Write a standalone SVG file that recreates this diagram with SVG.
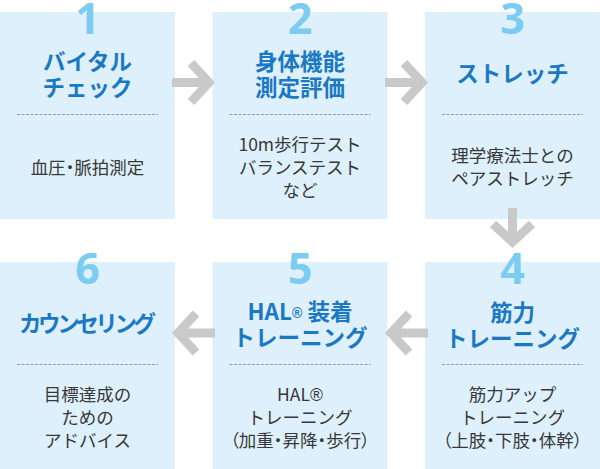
<svg xmlns="http://www.w3.org/2000/svg" width="600" height="469" viewBox="0 0 600 469">
<style>
.box{fill:#def0fb}
.num{font-family:"Noto Sans","Liberation Sans",sans-serif;font-weight:bold;font-size:43px;fill:#7ccbf1;text-anchor:middle}
.ttl{font-family:"Noto Sans CJK JP","Noto Sans",sans-serif;font-weight:bold;font-size:22.5px;fill:#1b79c4;text-anchor:middle}
.body{font-family:"Noto Sans CJK JP","Noto Sans",sans-serif;font-size:17.5px;fill:#383838;text-anchor:middle}
.pt{font-feature-settings:"palt"}
.reg{font-family:"Liberation Sans",sans-serif}
.sep{stroke:#9a9a9a;stroke-width:1;stroke-dasharray:3 1.5}
.arr{fill:none;stroke:#c9c9c9;stroke-width:9;stroke-linejoin:miter}
</style>
<rect width="600" height="469" fill="#fff"/>
<g id="node1">
<rect class="box" x="0" y="12" width="175" height="207"/>
<text class="num" x="87.5" y="34">1</text>
<text class="ttl" x="87.5" y="70">バイタル</text>
<text class="ttl" x="87.5" y="96">チェック</text>
<line class="sep" x1="17" y1="114.5" x2="158" y2="114.5"/>
<text class="body pt" x="87.5" y="174">血圧・脈拍測定</text>
</g>
<g id="node2">
<rect class="box" x="212.5" y="12" width="175" height="207"/>
<text class="num" x="300" y="34">2</text>
<text class="ttl" x="300" y="70">身体機能</text>
<text class="ttl" x="300" y="96">測定評価</text>
<line class="sep" x1="229.5" y1="114.5" x2="370.5" y2="114.5"/>
<text class="body" x="300" y="150.5">10m歩行テスト</text>
<text class="body" x="300" y="174">バランステスト</text>
<text class="body" x="300" y="197">など</text>
</g>
<g id="node3">
<rect class="box" x="425" y="12" width="175" height="207"/>
<text class="num" x="512.5" y="34">3</text>
<text class="ttl" x="512.5" y="82">ストレッチ</text>
<line class="sep" x1="442" y1="114.5" x2="583" y2="114.5"/>
<text class="body" x="512.5" y="161.5">理学療法士との</text>
<text class="body" x="512.5" y="185">ペアストレッチ</text>
</g>
<g id="node4">
<rect class="box" x="425" y="262" width="175" height="207"/>
<text class="num" x="512.5" y="284">4</text>
<text class="ttl" x="512.5" y="321">筋力</text>
<text class="ttl" x="512.5" y="347">トレーニング</text>
<line class="sep" x1="442" y1="364.5" x2="583" y2="364.5"/>
<text class="body" x="512.5" y="400.5">筋力アップ</text>
<text class="body" x="512.5" y="424">トレーニング</text>
<text class="body pt" x="512.5" y="447">（上肢・下肢・体幹）</text>
</g>
<g id="node5">
<rect class="box" x="212.5" y="262" width="175" height="207"/>
<text class="num" x="300" y="284">5</text>
<text class="ttl" x="300" y="320">HAL<tspan class="reg" font-size="14" dy="-2">®</tspan><tspan dy="2"> 装着</tspan></text>
<text class="ttl" x="300" y="346">トレーニング</text>
<line class="sep" x1="229.5" y1="364.5" x2="370.5" y2="364.5"/>
<text class="body" x="300" y="401">HAL<tspan class="reg">®</tspan></text>
<text class="body" x="300" y="424">トレーニング</text>
<text class="body pt" x="300" y="447">（加重・昇降・歩行）</text>
</g>
<g id="node6">
<rect class="box" x="0" y="262" width="175" height="207"/>
<text class="num" x="87.5" y="284">6</text>
<text class="ttl" x="87.5" y="332" textLength="137">カウンセリング</text>
<line class="sep" x1="17" y1="364.5" x2="158" y2="364.5"/>
<text class="body" x="87.5" y="401">目標達成の</text>
<text class="body" x="87.5" y="424">ための</text>
<text class="body" x="87.5" y="447">アドバイス</text>
</g>
<g id="connectors">
<path class="arr" d="M172,82.5H207M191,63L209,82.5L191,102"/>
<path class="arr" d="M385,82.5H420M404,63L422,82.5L404,102"/>
<path class="arr" d="M512.5,208V240M493,224L512.5,242L532,224"/>
<path class="arr" d="M428,333H393M409,313.5L391,333L409,352.5"/>
<path class="arr" d="M215,333H180M196,313.5L178,333L196,352.5"/>
</g>
</svg>
